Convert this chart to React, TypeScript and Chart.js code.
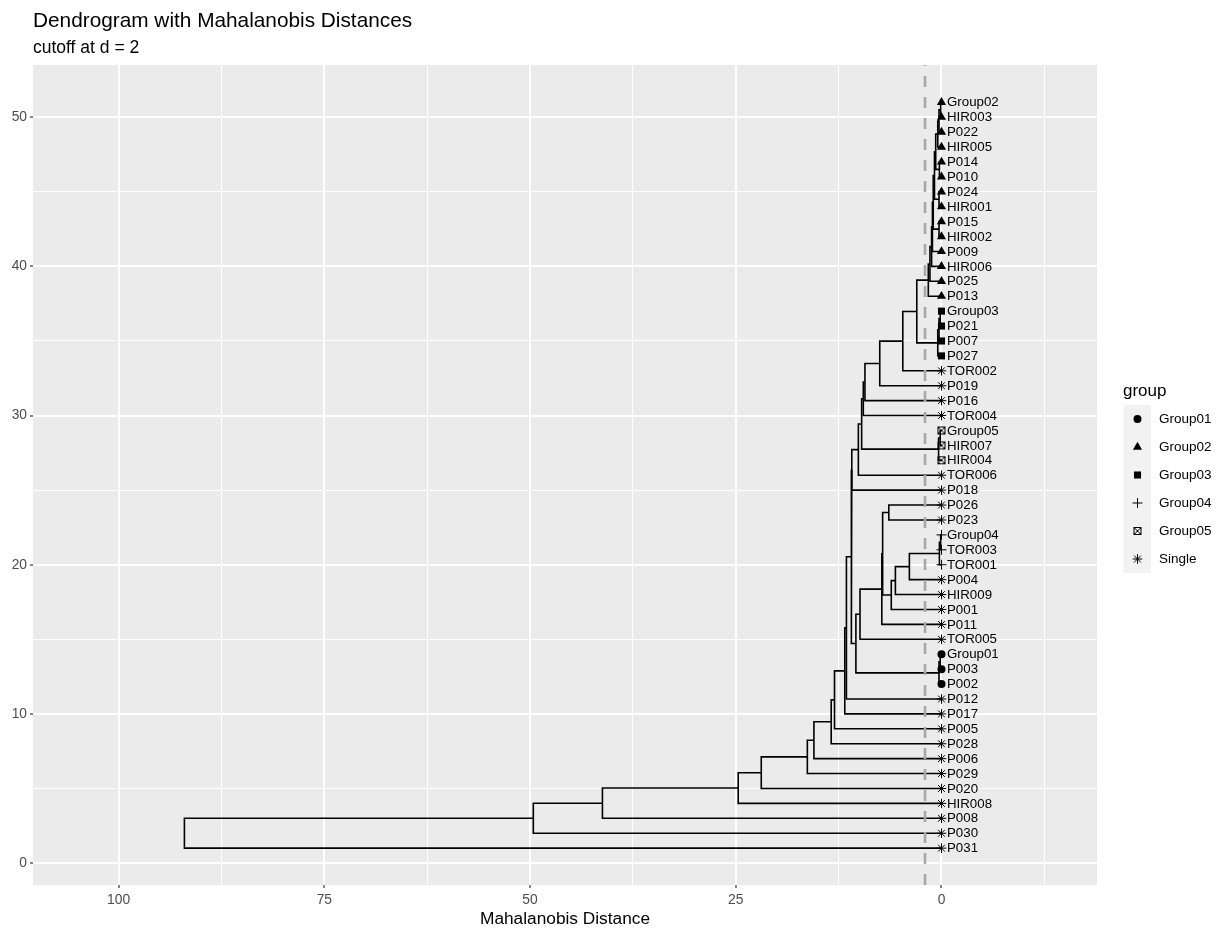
import React, { useEffect, useRef } from "react";
import { Chart, registerables } from "chart.js";
import { drawPoint } from "chart.js/helpers";

Chart.register(...registerables);

const FONT = '"Liberation Sans", Arial, Helvetica, sans-serif';

// ---- data ----
const leafLabels = [
  "P031", "P030", "P008", "HIR008", "P020", "P029", "P006", "P028", "P005", "P017",
  "P012", "P002", "P003", "Group01", "TOR005", "P011", "P001", "HIR009", "P004", "TOR001",
  "TOR003", "Group04", "P023", "P026", "P018", "TOR006", "HIR004", "HIR007", "Group05", "TOR004",
  "P016", "P019", "TOR002", "P027", "P007", "P021", "Group03", "P013", "P025", "HIR006",
  "P009", "HIR002", "P015", "HIR001", "P024", "P010", "P014", "HIR005", "P022", "HIR003",
  "Group02",
];

const leafGroups = [
  "Single", "Single", "Single", "Single", "Single", "Single", "Single", "Single", "Single", "Single",
  "Single", "Group01", "Group01", "Group01", "Single", "Single", "Single", "Single", "Single", "Group04",
  "Group04", "Group04", "Single", "Single", "Single", "Single", "Group05", "Group05", "Group05", "Single",
  "Single", "Single", "Single", "Group03", "Group03", "Group03", "Group03", "Group02", "Group02", "Group02",
  "Group02", "Group02", "Group02", "Group02", "Group02", "Group02", "Group02", "Group02", "Group02", "Group02",
  "Group02",
];

// merge table (hclust style): negative = leaf position, positive = earlier merge (1-based)
const mergeLeft = [
  -51, 1, 2, -47, 3, -45, 5, -43, 7, 9,
  10, 11, 12, -37, 14, 15, 13, 17, 18, 19,
  20, -29, 22, 21, 24, 25, -22, 27, 28, 29,
  30, -24, 32, 33, 34, -14, 36, 35, 26, 39,
  40, 41, 42, 43, 44, 45, 46, 47, 48, 49,
];
const mergeRight = [
  -50, -49, -48, -46, 4, -44, 6, -42, 8, -41,
  -40, -39, -38, -36, -35, -34, 16, -33, -32, -31,
  -30, -28, -27, 23, -26, -25, -21, -20, -19, -18,
  -17, -23, 31, -16, -15, -13, -12, 37, 38, -11,
  -10, -9, -8, -7, -6, -5, -4, -3, -2, -1,
];
const mergeHeight = [
  0.1, 0.3, 0.45, 0.25, 0.7, 0.3, 0.85, 0.3, 1.0, 1.1,
  1.2, 1.4, 1.6, 0.15, 0.3, 0.45, 3.0, 4.7, 7.5, 9.3,
  9.5, 0.15, 0.35, 9.7, 10.1, 10.9, 0.1, 0.25, 3.9, 5.6,
  6.1, 6.4, 7.15, 7.25, 9.9, 0.15, 0.3, 10.4, 10.95, 11.55,
  11.75, 13.0, 13.4, 15.5, 16.3, 21.9, 24.7, 41.2, 49.6, 92.0,
];

const cutoff = 2;
const xMajorTicks = [0, 25, 50, 75, 100];
const xMinorTicks = [-12.5, 12.5, 37.5, 62.5, 87.5];
const yMajorTicks = [0, 10, 20, 30, 40, 50];
const yMinorTicks = [5, 15, 25, 35, 45];
const xLimits = [-18.9, 110.4];
const yLimits = [-1.47, 53.5];
const groupNames = ["Group01", "Group02", "Group03", "Group04", "Group05", "Single"];

const titleText = "Dendrogram with Mahalanobis Distances";
const subtitleText = "cutoff at d = 2";
const xTitleText = "Mahalanobis Distance";
const legendTitleText = "group";

function makeBoxX(): HTMLCanvasElement {
  const c = document.createElement("canvas");
  c.width = 10;
  c.height = 10;
  const g = c.getContext("2d")!;
  g.strokeStyle = "#000";
  g.lineWidth = 1;
  g.strokeRect(1.5, 1.5, 7, 7);
  g.beginPath();
  g.moveTo(1.5, 1.5);
  g.lineTo(8.5, 8.5);
  g.moveTo(8.5, 1.5);
  g.lineTo(1.5, 8.5);
  g.stroke();
  return c;
}

function groupStyle(name: string, boxX: HTMLCanvasElement): any {
  switch (name) {
    case "Group01":
      return { pointStyle: "circle", radius: 4, borderWidth: 0 };
    case "Group02":
      return { pointStyle: "triangle", radius: 5.3, borderWidth: 0 };
    case "Group03":
      return { pointStyle: "rect", radius: 5, borderWidth: 0 };
    case "Group04":
      return { pointStyle: "cross", radius: 5, borderWidth: 1 };
    case "Group05":
      return { pointStyle: boxX, radius: 5, borderWidth: 0 };
    default:
      return { pointStyle: "star", radius: 4.8, borderWidth: 1 };
  }
}

function buildSegments() {
  const centers: number[] = [];
  const pos = (ref: number) =>
    ref < 0 ? { y: -ref, h: 0 } : { y: centers[ref - 1], h: mergeHeight[ref - 1] };
  const segs: { x: number; y: number }[][] = [];
  for (let i = 0; i < mergeHeight.length; i++) {
    const a = pos(mergeLeft[i]);
    const b = pos(mergeRight[i]);
    const h = mergeHeight[i];
    centers.push((a.y + b.y) / 2);
    segs.push([
      { x: a.h, y: a.y },
      { x: h, y: a.y },
      { x: h, y: b.y },
      { x: b.h, y: b.y },
    ]);
  }
  return segs;
}

export default function App() {
  const ref = useRef<HTMLCanvasElement | null>(null);

  useEffect(() => {
    const canvas = ref.current;
    if (!canvas) return;
    const boxX = makeBoxX();

    const pointDatasets = groupNames.map((g) => {
      const st = groupStyle(g, boxX);
      const data: { x: number; y: number }[] = [];
      leafGroups.forEach((lg, i) => {
        if (lg === g) data.push({ x: 0, y: i + 1 });
      });
      return {
        label: g,
        data,
        showLine: false,
        pointStyle: st.pointStyle,
        pointRadius: st.radius,
        pointBorderWidth: st.borderWidth,
        pointBackgroundColor: "#000000",
        pointBorderColor: "#000000",
        order: 0,
      } as any;
    });

    const cutoffDataset: any = {
      label: "cutoff",
      data: [
        { x: cutoff, y: yLimits[0] },
        { x: cutoff, y: yLimits[1] },
      ],
      showLine: true,
      pointRadius: 0,
      borderColor: "#A8A8A8",
      borderWidth: 2.6,
      borderDash: [11, 10],
      order: 1,
    };

    const segDatasets = buildSegments().map((seg, i) => ({
      label: "node" + i,
      data: seg,
      showLine: true,
      pointRadius: 0,
      borderColor: "#000000",
      borderWidth: 1.6,
      tension: 0,
      fill: false,
      order: 2,
    })) as any[];

    const bgPlugin = {
      id: "bg",
      beforeDraw(chart: any) {
        const { ctx, chartArea } = chart;
        ctx.save();
        ctx.fillStyle = "#FFFFFF";
        ctx.fillRect(0, 0, chart.width, chart.height);
        ctx.fillStyle = "#EBEBEB";
        ctx.fillRect(chartArea.left, chartArea.top, chartArea.right - chartArea.left, chartArea.bottom - chartArea.top);
        ctx.restore();
      },
    };

    const textPlugin = {
      id: "texts",
      afterDatasetsDraw(chart: any) {
        const { ctx } = chart;
        const xs = chart.scales.x;
        const ys = chart.scales.y;
        ctx.save();
        ctx.fillStyle = "#000000";
        ctx.font = `13.3px ${FONT}`;
        ctx.textAlign = "left";
        ctx.textBaseline = "middle";
        const x0 = xs.getPixelForValue(0) + 5.5;
        leafLabels.forEach((lab, i) => {
          ctx.fillText(lab, x0, ys.getPixelForValue(i + 1) + 0.5);
        });
        ctx.restore();
      },
      afterDraw(chart: any) {
        const { ctx, chartArea } = chart;
        ctx.save();
        ctx.fillStyle = "#000000";
        ctx.textAlign = "left";
        ctx.textBaseline = "alphabetic";
        ctx.font = `20.8px ${FONT}`;
        ctx.fillText(titleText, 33, 27);
        ctx.font = `17.5px ${FONT}`;
        ctx.fillText(subtitleText, 33, 53);
        ctx.textAlign = "center";
        ctx.font = `17.3px ${FONT}`;
        ctx.fillText(xTitleText, (chartArea.left + chartArea.right) / 2, 924);

        // legend
        ctx.textAlign = "left";
        ctx.font = `17px ${FONT}`;
        ctx.fillText(legendTitleText, 1123, 396);
        const bx = makeBoxX();
        groupNames.forEach((g, i) => {
          const cy = 419 + i * 28;
          ctx.fillStyle = "#F2F2F2";
          ctx.fillRect(1123.5, cy - 14, 27.5, 28);
          const st = groupStyle(g, bx);
          ctx.fillStyle = "#000000";
          ctx.strokeStyle = "#000000";
          ctx.lineWidth = st.borderWidth;
          drawPoint(ctx, { pointStyle: st.pointStyle, radius: st.radius, borderWidth: st.borderWidth, rotation: 0 } as any, 1137.5, cy);
          ctx.fillStyle = "#000000";
          ctx.font = `13.5px ${FONT}`;
          ctx.textBaseline = "middle";
          ctx.fillText(g, 1159, cy + 0.5);
          ctx.textBaseline = "alphabetic";
        });
        ctx.restore();
      },
    };

    const isMajorX = (v: number) => xMajorTicks.includes(v);
    const isMajorY = (v: number) => yMajorTicks.includes(v);

    const chart = new Chart(canvas, {
      type: "scatter",
      data: { datasets: [...pointDatasets, cutoffDataset, ...segDatasets] },
      options: {
        responsive: false,
        animation: false,
        devicePixelRatio: 1,
        events: [],
        layout: { padding: { top: 65, right: 128, bottom: 0, left: 0 } },
        plugins: {
          legend: { display: false },
          tooltip: { enabled: false },
          title: { display: false },
        },
        scales: {
          x: {
            type: "linear",
            reverse: true,
            min: xLimits[0],
            max: xLimits[1],
            afterBuildTicks: (s: any) => {
              s.ticks = [...xMajorTicks, ...xMinorTicks].sort((a, b) => a - b).map((v) => ({ value: v }));
            },
            afterFit: (s: any) => {
              s.height = 46;
            },
            ticks: {
              autoSkip: false,
              maxRotation: 0,
              padding: 4,
              color: "#4D4D4D",
              font: { family: FONT, size: 13.8 },
              callback: (v: any) => (isMajorX(Number(v)) ? String(v) : ""),
            },
            grid: {
              color: "#FFFFFF",
              lineWidth: (c: any) => (c.tick && isMajorX(c.tick.value) ? 2 : 1),
              tickColor: (c: any) => (c.tick && isMajorX(c.tick.value) ? "#333333" : "rgba(0,0,0,0)"),
              tickLength: 3,
              tickWidth: 1.2,
              drawTicks: true,
            },
            border: { display: false },
          },
          y: {
            type: "linear",
            min: yLimits[0],
            max: yLimits[1],
            afterBuildTicks: (s: any) => {
              s.ticks = [...yMajorTicks, ...yMinorTicks].sort((a, b) => a - b).map((v) => ({ value: v }));
            },
            afterFit: (s: any) => {
              s.width = 33;
            },
            ticks: {
              autoSkip: false,
              padding: 3,
              color: "#4D4D4D",
              font: { family: FONT, size: 13.8 },
              callback: (v: any) => (isMajorY(Number(v)) ? String(v) : ""),
            },
            grid: {
              color: "#FFFFFF",
              lineWidth: (c: any) => (c.tick && isMajorY(c.tick.value) ? 2 : 1),
              tickColor: (c: any) => (c.tick && isMajorY(c.tick.value) ? "#333333" : "rgba(0,0,0,0)"),
              tickLength: 3,
              tickWidth: 1.2,
              drawTicks: true,
            },
            border: { display: false },
          },
        },
      } as any,
      plugins: [bgPlugin, textPlugin],
    });

    return () => chart.destroy();
  }, []);

  return (
    <div style={{ position: "fixed", left: 0, top: 0, width: 1225, height: 931, background: "#FFFFFF" }}>
      <canvas ref={ref} width={1225} height={931} style={{ width: 1225, height: 931, display: "block" }} />
    </div>
  );
}
